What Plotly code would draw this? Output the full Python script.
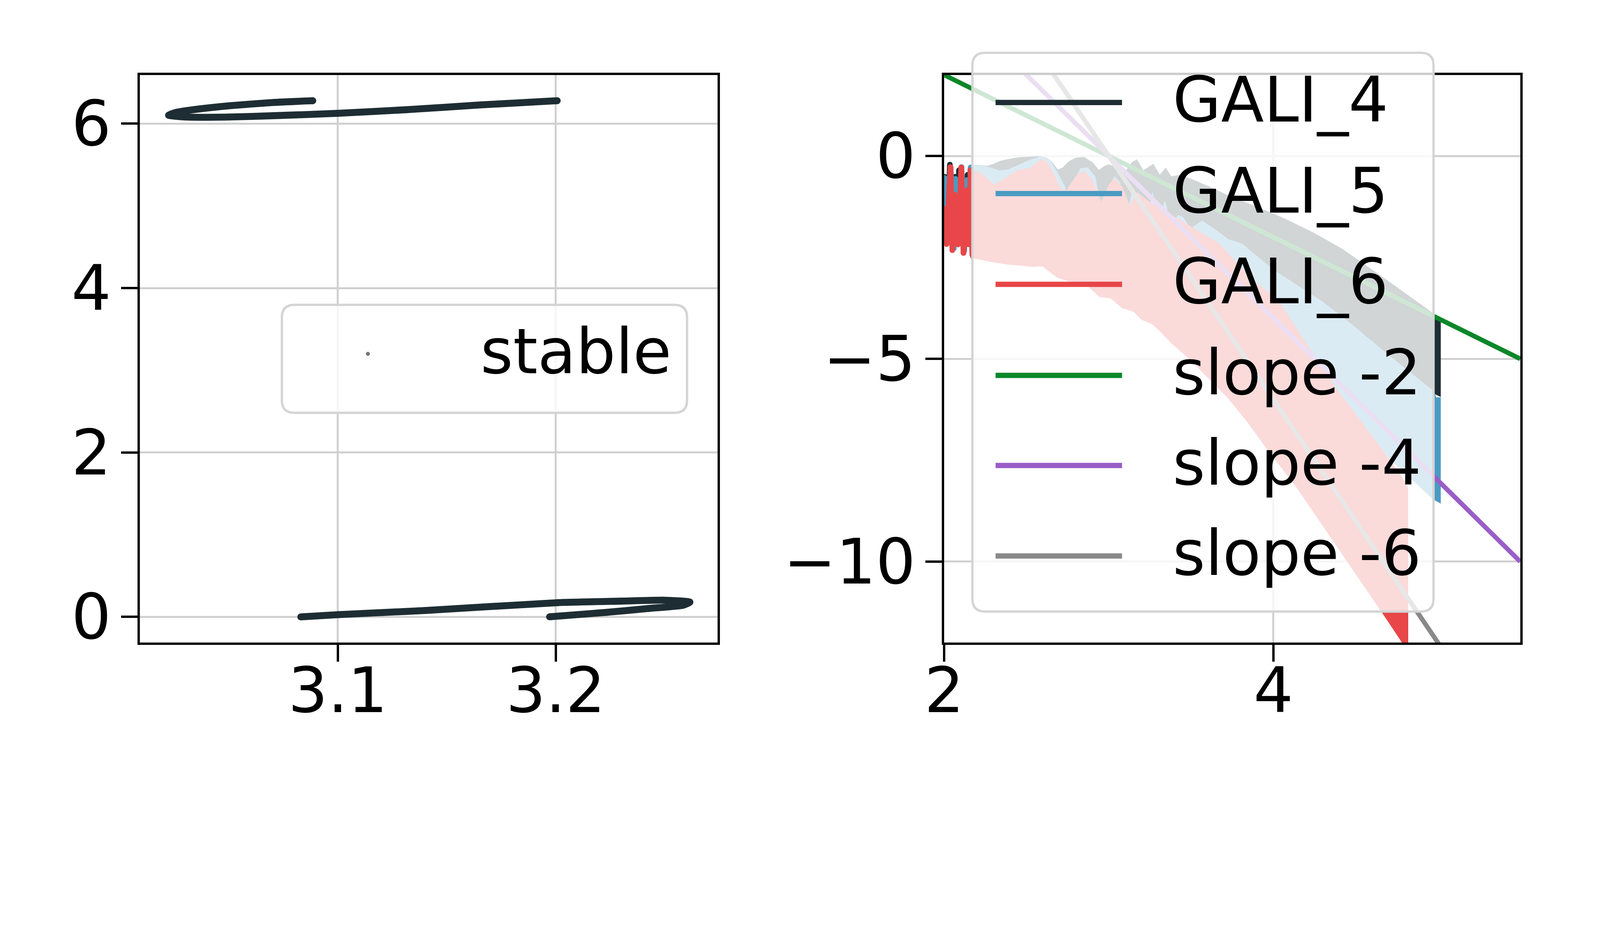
import plotly.graph_objects as go

# ---------------- data ----------------
# left panel: "stable" orbit (two branches, angle wraps at 2*pi)
stable_top_x = [3.0885, 3.0705, 3.0501, 3.0366, 3.0257, 3.0223, 3.0298, 3.0501, 3.0705, 3.1001, 3.1316, 3.1655, 3.2007]
stable_top_y = [6.279, 6.258, 6.218, 6.180, 6.137, 6.103, 6.081, 6.081, 6.097, 6.126, 6.170, 6.228, 6.279]
stable_bot_x = [3.0830, 3.1003, 3.1399, 3.2007, 3.2301, 3.2494, 3.2616, 3.2584, 3.2430, 3.2236, 3.1972]
stable_bot_y = [0.000, 0.028, 0.077, 0.173, 0.192, 0.203, 0.180, 0.141, 0.103, 0.056, 0.001]

# right panel: GALI envelopes (log10 t vs log10 GALI)
g4_up_x = [2.16, 2.20, 2.26, 2.30, 2.34, 2.39, 2.45, 2.52, 2.57, 2.62, 2.65, 2.69, 2.72, 2.76, 2.80, 2.85, 2.90, 2.94, 2.97, 3.00,
           3.05, 3.10, 3.14, 3.17, 3.21, 3.27, 3.31, 3.345, 3.38, 3.43, 3.50, 3.61, 3.73, 3.90, 4.07, 4.25, 4.42, 4.65, 4.87, 4.98, 5.017]
g4_up_y = [-0.25, -0.22, -0.24, -0.19, -0.12, -0.07, -0.03, -0.01, 0.0, -0.04, -0.12, -0.33, -0.28, -0.12, -0.04, -0.02, -0.15, -0.34, -0.25, -0.20,
           -0.28, -0.38, -0.15, -0.08, -0.35, -0.19, -0.46, -0.28, -0.50, -0.46, -0.56, -0.75, -0.98, -1.25, -1.54, -1.90, -2.29, -2.94, -3.58, -3.90, -4.02]
g4_lo_x = [2.16, 2.30, 2.60, 3.00, 3.50, 4.00, 4.50, 4.80, 4.97, 5.017]
g4_lo_y = [-1.0, -1.2, -1.8, -2.5, -3.0, -4.0, -5.2, -5.9, -5.85, -5.94]

g5_up_x = [2.16, 2.196, 2.25, 2.29, 2.333, 2.386, 2.454, 2.52, 2.59, 2.641, 2.688, 2.734, 2.751, 2.78, 2.826, 2.873, 2.919, 2.954, 2.988, 3.035,
           3.069, 3.104, 3.139, 3.18, 3.22, 3.266, 3.30, 3.341, 3.381, 3.42, 3.451, 3.497, 3.566, 3.67, 3.726, 3.807, 4.0, 4.298, 4.467, 4.699,
           4.976, 4.99, 5.017]
g5_up_y = [-0.24, -0.23, -0.25, -0.29, -0.35, -0.33, -0.21, -0.09, 0.0, -0.09, -0.40, -0.75, -1.12, -0.70, -0.30, -0.28, -0.51, -1.40, -0.84, -0.49,
           -0.65, -1.59, -0.89, -1.20, -1.78, -0.87, -1.64, -1.08, -1.73, -1.45, -1.50, -1.78, -1.59, -1.87, -2.05, -2.15, -2.80, -3.585, -4.12, -4.90,
           -5.80, -5.95, -5.95]
g5_lo_x = [2.16, 2.5, 3.0, 3.5, 4.0, 4.4, 4.713, 4.968, 5.017]
g5_lo_y = [-1.0, -1.5, -2.5, -3.5, -4.8, -6.3, -7.49, -8.46, -8.57]

g6_up_x = [2.16, 2.212, 2.259, 2.299, 2.346, 2.386, 2.454, 2.521, 2.555, 2.588, 2.628, 2.675, 2.695, 2.734, 2.803, 2.85, 2.896, 2.954, 3.0, 3.035,
           3.081, 3.127, 3.173, 3.243, 3.324, 3.44, 3.555, 3.67, 3.726, 3.85, 4.036, 4.159, 4.39, 4.621, 4.778, 4.819]
g6_up_y = [-0.38, -0.39, -0.54, -0.70, -0.60, -0.50, -0.33, -0.30, -0.18, -0.07, -0.17, -0.51, -0.70, -0.89, -0.47, -0.37, -0.56, -1.12, -0.70, -0.54,
           -0.75, -1.22, -0.89, -1.12, -1.31, -1.59, -1.87, -2.15, -2.40, -2.95, -3.585, -4.37, -5.77, -7.02, -7.89, -8.19]
g6_lo_x = [2.16, 2.214, 2.271, 2.376, 2.537, 2.595, 2.641, 2.688, 2.757, 2.85, 2.896, 2.942, 3.011, 3.081, 3.15, 3.196, 3.266, 3.324, 3.381, 3.44,
           3.50, 3.56, 3.62, 3.67, 3.73, 3.843, 3.97, 4.133, 4.40, 4.665, 4.78, 4.819]
g6_lo_y = [-2.52, -2.55, -2.60, -2.67, -2.73, -2.72, -2.86, -3.0, -3.09, -3.12, -3.30, -3.47, -3.51, -3.75, -3.84, -4.03, -4.15, -4.38, -4.62, -4.83,
           -5.05, -5.30, -5.55, -5.75, -6.0, -6.57, -7.28, -8.13, -9.72, -11.29, -11.99, -12.25]

# early oscillations (left of the legend box): dense core + individual swings
g5_core_x = [2.0, 2.16]
g5_core_up = [-0.55, -0.55]
g5_core_lo = [-1.30, -1.30]
g6_core_x = [2.0, 2.06, 2.16]
g6_core_up = [-1.30, -1.00, -1.00]
g6_core_lo = [-2.15, -2.20, -2.25]

g4_zz_x = [2.0027, 2.0175, 2.0342, 2.0544, 2.0644, 2.0846, 2.0893, 2.1181, 2.1416, 2.1517, 2.1598, 2.1719, 2.1853]
g4_zz_y = [-0.51, -2.06, -0.21, -2.25, -0.51, -2.06, -0.35, -2.25, -0.46, -2.12, -0.32, -2.25, -1.30]
g5_zz_x = [2.0027, 2.0175, 2.0389, 2.0577, 2.0678, 2.0846, 2.1047, 2.1215, 2.1369, 2.1517, 2.1604, 2.1719, 2.1853]
g5_zz_y = [-0.54, -2.12, -0.29, -2.28, -0.56, -2.12, -0.27, -2.33, -0.59, -2.12, -0.28, -2.39, -1.30]
g6_zz_x = [2.0027, 2.0141, 2.0376, 2.0490, 2.0624, 2.0832, 2.1034, 2.1168, 2.1396, 2.1484, 2.1598, 2.1705, 2.1853]
g6_zz_y = [-1.30, -2.17, -0.27, -2.32, -0.95, -2.18, -0.28, -2.39, -0.84, -2.16, -0.35, -2.44, -1.57]

# reference slopes
slope_x = [2.0, 5.5]
slope2_y = [2.0, -5.0]
slope4_y = [4.0, -10.0]
slope6_y = [6.0, -15.0]

legend_names = ["GALI_4", "GALI_5", "GALI_6", "slope -2", "slope -4", "slope -6"]
left_xticks = [3.1, 3.2]
left_yticks = [0, 2, 4, 6]
right_xticks = [2, 4]
right_yticks = [0, -5, -10]
right_yticktext = ["0", "\u22125", "\u221210"]

# ---------------- geometry / styling ----------------
# the page is photographed with a magnification; work in target pixels and convert
A = 1.18             # css px -> photo px
BX, BY = 0.0, 0.0    # photo offset
WC, HC = 4128, 2064  # figure size in css px


def S(v):
    return v / A


def PX(t):
    return ((t - BX) / A) / WC


def PY(t):
    return 1 - ((t - BY) / A) / HC


C4, C5, C6 = "#1d2d33", "#4a9bc3", "#e84648"
CG, CP, CK = "#0a8729", "#995ec7", "#898989"
FONT = "DejaVu Sans"
FS = S(189)

fig = go.Figure()

# left panel orbit
for xs, ys in [(stable_top_x, stable_top_y), (stable_bot_x, stable_bot_y)]:
    fig.add_trace(go.Scatter(x=xs, y=ys, mode="lines+markers", xaxis="x", yaxis="y",
                             line=dict(color=C4, width=S(21), shape="spline", smoothing=0.6),
                             marker=dict(color=C4, size=S(21), line=dict(width=0)),
                             showlegend=False, hoverinfo="skip"))


def band(xs_up, ys_up, xs_lo, ys_lo, col):
    fig.add_trace(go.Scatter(x=list(xs_up) + list(xs_lo)[::-1], y=list(ys_up) + list(ys_lo)[::-1],
                             mode="lines", fill="toself", fillcolor=col, line=dict(width=0, color=col),
                             xaxis="x2", yaxis="y2", showlegend=False, hoverinfo="skip"))


def swing(xs, ys, col):
    fig.add_trace(go.Scatter(x=xs, y=ys, mode="lines+markers", xaxis="x2", yaxis="y2",
                             line=dict(color=col, width=S(17)),
                             marker=dict(color=col, size=S(17), line=dict(width=0)),
                             showlegend=False, hoverinfo="skip"))


# right panel GALI bands (drawn in order 4, 5, 6)
band(g4_up_x, g4_up_y, g4_lo_x, g4_lo_y, C4)
swing(g4_zz_x, g4_zz_y, C4)
band(g5_up_x, g5_up_y, g5_lo_x, g5_lo_y, C5)
band(g5_core_x, g5_core_up, g5_core_x, g5_core_lo, C5)
swing(g5_zz_x, g5_zz_y, C5)
band(g6_up_x, g6_up_y, g6_lo_x, g6_lo_y, C6)
band(g6_core_x, g6_core_up, g6_core_x, g6_core_lo, C6)
swing(g6_zz_x, g6_zz_y, C6)

for ys, col in [(slope2_y, CG), (slope4_y, CP), (slope6_y, CK)]:
    fig.add_trace(go.Scatter(x=slope_x, y=ys, mode="lines", xaxis="x2", yaxis="y2",
                             line=dict(color=col, width=S(14)), showlegend=False, hoverinfo="skip"))

axis_common = dict(showline=True, linecolor="black", linewidth=S(7), mirror=True,
                   ticks="outside", ticklen=S(50), tickwidth=S(7), tickcolor="black",
                   showgrid=True, gridcolor="#d0d0d0", gridwidth=S(6), zeroline=False,
                   automargin=False,
                   tickfont=dict(family=FONT, size=FS, color="black"))

ydom = [PY(1931), PY(217)]
fig.update_layout(
    width=WC, height=HC, margin=dict(l=0, r=0, t=0, b=0, pad=0),
    paper_bgcolor="white", plot_bgcolor="white", showlegend=False,
    font=dict(family=FONT, size=FS, color="black"),
    xaxis=dict(domain=[PX(413), PX(2158)], range=[3.0091, 3.2743], anchor="y",
               tickvals=left_xticks, ticktext=[str(v) for v in left_xticks],
               ticklabelstandoff=-63, **axis_common),
    yaxis=dict(domain=ydom, range=[-0.314, 6.592], anchor="x",
               tickvals=left_yticks, ticktext=[str(v) for v in left_yticks],
               ticklabelstandoff=-7, **axis_common),
    xaxis2=dict(domain=[PX(2843), PX(4583)], range=[2, 5.5], anchor="y2",
                tickvals=right_xticks, ticktext=[str(v) for v in right_xticks],
                ticklabelstandoff=-63, **axis_common),
    yaxis2=dict(domain=ydom, range=[-12, 2], anchor="x2",
                tickvals=right_yticks, ticktext=right_yticktext,
                ticklabelstandoff=-7, **axis_common),
)


def rr(x0, y0, x1, y1, r):
    def P(a, b):
        return f"{PX(a):.6f},{PY(b):.6f}"
    return (f"M{P(x0 + r, y0)} L{P(x1 - r, y0)} Q{P(x1, y0)} {P(x1, y0 + r)} "
            f"L{P(x1, y1 - r)} Q{P(x1, y1)} {P(x1 - r, y1)} L{P(x0 + r, y1)} "
            f"Q{P(x0, y1)} {P(x0, y1 - r)} L{P(x0, y0 + r)} Q{P(x0, y0)} {P(x0 + r, y0)} Z")


shapes = []
annotations = []
# left legend
shapes.append(dict(type="path", path=rr(842, 911, 2066, 1237, 38), xref="paper", yref="paper",
                   fillcolor="rgba(255,255,255,0.8)", line=dict(color="#d4d4d4", width=S(7)), layer="above"))
shapes.append(dict(type="circle", xref="paper", yref="paper", x0=PX(1096), x1=PX(1108), y0=PY(1065), y1=PY(1053),
                   fillcolor="#6e7678", line=dict(width=0), layer="above"))
annotations.append(dict(text="stable", x=PX(1440), y=PY(1052), xref="paper", yref="paper",
                        xanchor="left", yanchor="middle", showarrow=False,
                        font=dict(family=FONT, size=FS, color="black")))
# right legend
shapes.append(dict(type="path", path=rr(2928, 150, 4321, 1837, 38), xref="paper", yref="paper",
                   fillcolor="rgba(255,255,255,0.8)", line=dict(color="#d4d4d4", width=S(7)), layer="above"))
item_y = [300, 575, 849, 1124, 1396, 1669]
item_c = [C4, C5, C6, CG, CP, CK]
for name, yy, col in zip(legend_names, item_y, item_c):
    shapes.append(dict(type="line", xref="paper", yref="paper", x0=PX(2998), x1=PX(3380), y0=PY(yy), y1=PY(yy),
                       line=dict(color=col, width=S(16)), layer="above"))
    annotations.append(dict(text=name, x=PX(3530), y=PY(yy - 8), xref="paper", yref="paper",
                            xanchor="left", yanchor="middle", showarrow=False,
                            font=dict(family=FONT, size=FS, color="black")))

fig.update_layout(shapes=shapes, annotations=annotations)
fig.write_html("out.html")
